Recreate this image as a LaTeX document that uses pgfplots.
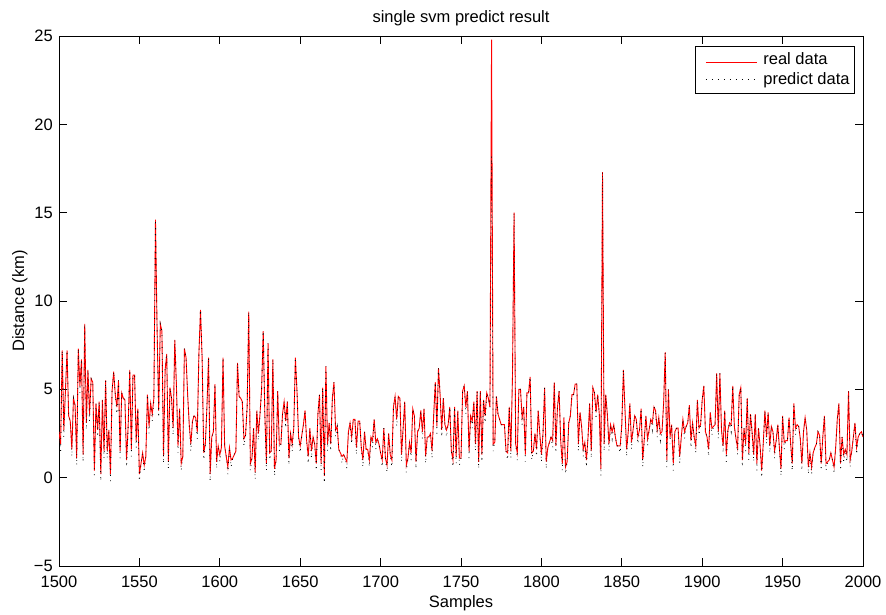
\documentclass[border=0pt]{standalone}
\usepackage{pgfplots}
\pgfplotsset{compat=1.18}
\usepackage{pgfplotstable}
\usepackage{fontspec}
\setmainfont{Liberation Sans}

\pgfplotstableread[row sep=\\]{
x r p\\
1500 2.6 2.5\\1501 1.9 1.5\\1502 7.2 7.2\\1503 2.7 2.3\\1504 4.9 4.9\\
1505 7.2 7.2\\1506 3.5 3.5\\1507 3.2 3.2\\1508 1.6 1.2\\1509 4.5 4.5\\
1510 4.1 4.1\\1511 1.1 0.7\\1512 7.3 7.3\\1513 5.2 4.8\\1514 6.7 6.7\\
1515 1.3 0.9\\1516 8.7 8.7\\1517 3.1 2.7\\1518 6.1 6.1\\1519 3.6 3.2\\
1520 5.6 5.6\\1521 5.4 5.4\\1522 0.4 0.0\\1523 4.2 4.2\\1524 2.7 2.3\\
1525 4.3 4.3\\1526 0.2 -0.2\\1527 4.4 4.4\\1528 1.5 1.1\\1529 5.5 5.5\\
1530 1.5 1.1\\1531 2.7 2.7\\1532 0.2 -0.2\\1533 4.9 4.9\\1534 6.0 6.0\\
1535 4.7 4.7\\1536 4.0 3.6\\1537 5.5 5.5\\1538 1.5 1.1\\1539 4.8 4.8\\
1540 4.5 4.5\\1541 4.4 4.4\\1542 1.0 0.6\\1543 2.9 2.9\\1544 6.1 6.1\\
1545 1.6 1.2\\1546 5.8 5.8\\1547 5.8 5.8\\1548 2.1 1.7\\1549 3.9 3.9\\
1550 0.2 -0.2\\1551 0.8 0.8\\1552 1.4 1.4\\1553 0.7 0.3\\1554 1.2 1.2\\
1555 4.7 4.7\\1556 2.9 2.5\\1557 4.2 4.2\\1558 3.6 3.2\\1559 4.5 4.3\\
1560 14.6 14.6\\1561 8.4 8.4\\1562 3.8 3.4\\1563 8.7 8.7\\1564 8.3 8.3\\
1565 1.2 0.8\\1566 6.1 6.1\\1567 7.0 7.0\\1568 0.9 0.5\\1569 5.1 5.1\\
1570 4.5 4.5\\1571 2.8 2.4\\1572 7.8 7.8\\1573 5.3 5.3\\1574 1.8 1.4\\
1575 3.9 3.9\\1576 0.8 0.4\\1577 1.2 1.2\\1578 7.3 7.3\\1579 6.8 6.8\\
1580 4.7 4.7\\1581 3.0 3.0\\1582 1.9 1.5\\1583 3.2 3.2\\1584 3.5 3.5\\
1585 3.4 3.4\\1586 2.6 2.2\\1587 7.0 7.0\\1588 9.5 9.5\\1589 6.8 6.8\\
1590 1.4 1.0\\1591 1.9 1.9\\1592 4.0 4.0\\1593 6.8 6.8\\1594 0.2 -0.2\\
1595 2.3 2.3\\1596 2.6 2.6\\1597 5.3 5.3\\1598 0.9 0.5\\1599 1.8 1.8\\
1600 1.3 0.9\\1601 1.7 1.7\\1602 6.8 6.8\\1603 1.8 1.8\\1604 1.2 1.2\\
1605 0.6 0.2\\1606 1.7 1.7\\1607 1.0 0.6\\1608 1.1 1.1\\1609 1.3 1.3\\
1610 1.5 1.5\\1611 6.5 6.5\\1612 4.6 4.6\\1613 4.5 4.5\\1614 4.3 4.3\\
1615 2.2 1.8\\1616 2.4 2.4\\1617 4.0 4.0\\1618 9.4 9.4\\1619 0.8 0.4\\
1620 1.1 1.1\\1621 2.8 2.8\\1622 0.3 -0.1\\1623 3.8 3.8\\1624 2.5 2.1\\
1625 3.6 3.6\\1626 5.0 5.0\\1627 8.3 8.3\\1628 3.6 3.6\\1629 0.8 0.4\\
1630 7.6 7.6\\1631 1.4 1.0\\1632 1.5 1.5\\1633 6.7 6.7\\1634 0.5 0.1\\
1635 1.0 1.0\\1636 4.9 4.9\\1637 1.9 1.5\\1638 1.9 1.9\\1639 3.6 3.6\\
1640 4.3 4.3\\1641 3.2 2.8\\1642 4.3 4.3\\1643 1.1 0.7\\1644 2.5 2.5\\
1645 1.9 1.5\\1646 2.8 2.8\\1647 6.8 6.8\\1648 4.9 4.9\\1649 2.3 2.3\\
1650 1.8 1.4\\1651 2.4 2.4\\1652 3.0 3.0\\1653 3.8 3.8\\1654 2.1 2.1\\
1655 1.2 0.8\\1656 2.8 2.8\\1657 1.5 1.1\\1658 2.3 2.3\\1659 1.9 1.9\\
1660 0.8 0.4\\1661 3.6 3.6\\1662 4.7 4.7\\1663 0.8 0.4\\1664 5.1 5.1\\
1665 0.1 -0.3\\1666 6.3 6.3\\1667 1.9 1.5\\1668 3.1 3.1\\1669 1.9 1.5\\
1670 4.5 4.5\\1671 5.4 5.4\\1672 2.7 2.3\\1673 2.9 2.9\\1674 1.6 1.6\\
1675 1.4 1.4\\1676 1.2 0.8\\1677 1.3 1.3\\1678 1.1 1.1\\1679 0.9 0.5\\
1680 2.6 2.6\\1681 3.1 3.1\\1682 2.3 1.9\\1683 3.3 3.3\\1684 3.3 3.3\\
1685 1.7 1.3\\1686 3.2 3.2\\1687 3.2 3.2\\1688 1.7 1.7\\1689 1.0 0.6\\
1690 2.6 2.6\\1691 1.6 1.6\\1692 1.6 1.6\\1693 1.0 0.6\\1694 2.3 2.3\\
1695 2.1 1.7\\1696 3.3 3.3\\1697 2.0 1.6\\1698 2.2 2.2\\1699 1.9 1.9\\
1700 1.4 1.4\\1701 1.0 0.6\\1702 2.8 2.8\\1703 1.1 1.1\\1704 0.7 0.3\\
1705 2.5 2.5\\1706 1.3 1.3\\1707 1.0 0.6\\1708 4.0 4.0\\1709 4.6 4.6\\
1710 3.3 2.9\\1711 4.6 4.6\\1712 4.5 4.5\\1713 1.3 0.9\\1714 2.8 2.8\\
1715 4.3 4.3\\1716 0.7 0.3\\1717 1.1 1.1\\1718 2.0 2.0\\1719 1.4 1.0\\
1720 3.9 3.9\\1721 3.5 3.5\\1722 0.9 0.5\\1723 2.6 2.6\\1724 2.8 2.8\\
1725 3.8 3.8\\1726 2.6 2.2\\1727 3.9 3.9\\1728 1.2 0.8\\1729 2.3 2.3\\
1730 2.3 2.3\\1731 2.5 2.5\\1732 1.5 1.1\\1733 3.5 3.5\\1734 5.4 5.4\\
1735 2.9 2.5\\1736 6.2 6.2\\1737 4.7 4.7\\1738 2.7 2.3\\1739 4.5 4.5\\
1740 3.0 3.0\\1741 2.7 2.3\\1742 3.0 3.0\\1743 4.0 4.0\\1744 1.5 1.5\\
1745 1.0 0.6\\1746 4.0 4.0\\1747 1.2 0.8\\1748 3.8 3.8\\1749 1.1 0.7\\
1750 1.1 1.1\\1751 4.9 4.9\\1752 5.2 5.2\\1753 4.0 3.6\\1754 4.9 4.9\\
1755 1.5 1.1\\1756 3.5 3.5\\1757 3.2 2.8\\1758 4.3 4.3\\1759 1.9 1.5\\
1760 4.9 4.9\\1761 0.9 0.5\\1762 4.9 4.9\\1763 1.3 0.9\\1764 4.4 4.4\\
1765 3.5 3.1\\1766 4.8 4.8\\1767 4.5 4.5\\1768 4.0 4.0\\1769 24.8 18.2\\
1770 1.9 1.5\\1771 2.0 2.0\\1772 4.6 4.6\\1773 3.6 3.6\\1774 3.3 3.3\\
1775 3.0 3.0\\1776 3.0 3.0\\1777 3.0 3.0\\1778 1.5 1.5\\1779 1.4 1.0\\
1780 4.0 4.0\\1781 1.5 1.1\\1782 5.7 5.7\\1783 15.0 15.0\\1784 1.9 1.9\\
1785 1.4 1.0\\1786 5.0 5.0\\1787 5.0 5.0\\1788 3.4 3.0\\1789 4.0 4.0\\
1790 1.3 0.9\\1791 4.8 4.8\\1792 4.8 4.8\\1793 5.7 5.7\\1794 1.4 1.0\\
1795 1.5 1.5\\1796 2.5 2.5\\1797 1.6 1.2\\1798 3.8 3.8\\1799 2.5 2.5\\
1800 1.3 0.9\\1801 2.5 2.5\\1802 5.1 5.1\\1803 0.9 0.5\\1804 1.7 1.7\\
1805 2.0 2.0\\1806 2.3 2.3\\1807 2.1 1.7\\1808 5.4 5.4\\1809 1.8 1.4\\
1810 4.0 4.0\\1811 4.9 4.9\\1812 2.1 2.1\\1813 0.8 0.4\\1814 3.4 3.4\\
1815 0.6 0.2\\1816 0.9 0.9\\1817 3.1 3.1\\1818 3.5 3.5\\1819 4.7 4.7\\
1820 4.7 4.7\\1821 5.3 5.3\\1822 5.3 5.3\\1823 1.9 1.5\\1824 3.7 3.7\\
1825 2.9 2.9\\1826 1.6 1.2\\1827 2.0 2.0\\1828 1.0 0.6\\1829 2.3 2.3\\
1830 4.2 4.2\\1831 1.5 1.1\\1832 5.1 5.1\\1833 4.8 4.8\\1834 3.7 3.3\\
1835 4.7 4.7\\1836 3.6 3.6\\1837 0.5 0.1\\1838 17.3 17.3\\1839 1.9 1.5\\
1840 4.7 4.7\\1841 3.6 3.6\\1842 1.9 1.5\\1843 3.0 3.0\\1844 2.6 2.2\\
1845 3.0 3.0\\1846 2.3 2.3\\1847 1.8 1.8\\1848 1.8 1.8\\1849 1.8 1.4\\
1850 3.0 3.0\\1851 6.1 6.1\\1852 3.8 3.8\\1853 1.6 1.2\\1854 2.6 2.6\\
1855 4.2 4.2\\1856 2.0 1.6\\1857 2.7 2.7\\1858 3.5 3.5\\1859 3.3 3.3\\
1860 2.3 1.9\\1861 2.7 2.7\\1862 3.9 3.9\\1863 1.0 0.6\\1864 2.2 2.2\\
1865 3.5 3.5\\1866 2.2 1.8\\1867 2.7 2.7\\1868 3.3 3.3\\1869 3.1 2.7\\
1870 4.0 4.0\\1871 3.8 3.8\\1872 2.7 2.3\\1873 3.4 3.4\\1874 2.5 2.1\\
1875 2.6 2.6\\1876 4.2 4.2\\1877 7.1 7.1\\1878 1.0 0.6\\1879 5.0 5.0\\
1880 2.3 1.9\\1881 3.0 3.0\\1882 0.8 0.4\\1883 2.6 2.6\\1884 2.8 2.8\\
1885 2.8 2.8\\1886 1.2 0.8\\1887 2.3 2.3\\1888 3.3 3.3\\1889 2.6 2.2\\
1890 2.9 2.9\\1891 3.1 3.1\\1892 4.1 4.1\\1893 2.1 1.7\\1894 3.1 3.1\\
1895 2.3 2.3\\1896 1.8 1.4\\1897 4.4 4.4\\1898 2.8 2.4\\1899 3.0 3.0\\
1900 4.4 4.4\\1901 5.2 5.2\\1902 2.6 2.6\\1903 2.3 2.3\\1904 1.6 1.2\\
1905 3.7 3.7\\1906 2.8 2.4\\1907 2.9 2.9\\1908 3.0 3.0\\1909 5.9 5.9\\
1910 2.6 2.2\\1911 5.9 5.9\\1912 2.7 2.7\\1913 1.8 1.4\\1914 3.8 3.8\\
1915 1.3 0.9\\1916 2.7 2.7\\1917 3.1 3.1\\1918 3.0 2.6\\1919 5.2 5.2\\
1920 2.9 2.9\\1921 2.2 2.2\\1922 1.7 1.3\\1923 4.7 4.7\\1924 5.1 5.1\\
1925 1.0 0.6\\1926 2.8 2.8\\1927 1.9 1.5\\1928 4.5 4.5\\1929 1.4 1.0\\
1930 3.6 3.6\\1931 2.6 2.6\\1932 1.3 0.9\\1933 3.6 3.6\\1934 0.8 0.4\\
1935 2.8 2.8\\1936 1.8 1.8\\1937 0.4 0.0\\1938 2.0 2.0\\1939 3.8 3.8\\
1940 2.3 1.9\\1941 3.7 3.7\\1942 1.8 1.4\\1943 2.9 2.9\\1944 2.6 2.6\\
1945 1.5 1.1\\1946 2.1 2.1\\1947 3.0 3.0\\1948 1.7 1.7\\1949 0.5 0.1\\
1950 3.5 3.5\\1951 2.0 1.6\\1952 2.1 2.1\\1953 2.1 2.1\\1954 3.4 3.4\\
1955 1.9 1.9\\1956 0.8 0.4\\1957 4.2 4.2\\1958 2.8 2.4\\1959 3.0 3.0\\
1960 2.9 2.9\\1961 2.2 2.2\\1962 0.8 0.4\\1963 2.6 2.6\\1964 3.4 3.4\\
1965 2.7 2.7\\1966 0.6 0.2\\1967 1.4 1.4\\1968 0.6 0.2\\1969 1.4 1.4\\
1970 1.7 1.7\\1971 1.9 1.9\\1972 2.6 2.6\\1973 2.4 2.4\\1974 0.8 0.4\\
1975 2.3 2.3\\1976 3.5 3.5\\1977 0.8 0.4\\1978 0.9 0.9\\1979 1.0 1.0\\
1980 1.4 1.4\\1981 1.0 1.0\\1982 0.6 0.2\\1983 1.7 1.7\\1984 3.3 3.3\\
1985 4.2 4.2\\1986 0.8 0.4\\1987 2.3 2.3\\1988 1.3 0.9\\1989 1.6 1.6\\
1990 1.3 0.9\\1991 4.9 4.9\\1992 1.0 0.6\\1993 1.5 1.5\\1994 2.3 2.3\\
1995 3.1 3.1\\1996 1.7 1.3\\1997 2.3 2.3\\1998 2.5 2.5\\1999 2.6 2.6\\
2000 2.3 2.3\\
}\svmdata

\begin{document}
\begin{tikzpicture}[font=\fontsize{16.5}{19}\selectfont]
\begin{axis}[
  scale only axis,
  width=804pt, height=530pt,
  xmin=1500, xmax=2000, ymin=-5, ymax=25,
  xtick={1500,1550,1600,1650,1700,1750,1800,1850,1900,1950,2000},
  xticklabels={1500,1550,1600,1650,1700,1750,1800,1850,1900,1950,2000},
  ytick={-5,0,5,10,15,20,25},
  yticklabels={−5,0,5,10,15,20,25},
  tick align=inside,
  major tick length=8pt,
  axis line style={line width=0.9pt, black},
  every tick/.style={line width=0.9pt, black},
  xticklabel style={anchor=base, inner sep=0pt, yshift=-21pt},
  yticklabel style={anchor=east, inner sep=0pt, xshift=-6pt},
  title={single svm predict result},
  title style={at={(0.5,1)}, anchor=base, inner sep=0pt, yshift=7pt},
  xlabel={Samples},
  xlabel style={at={(0.5,0)}, anchor=base, inner sep=0pt, yshift=-41pt},
  ylabel={Distance (km)},
  ylabel style={at={(axis description cs:-0.0435,0.5)}, anchor=base, inner sep=0pt},
  legend style={at={(1,1)}, anchor=north east, xshift=-8pt, yshift=-9.7pt,
    fill=white, line width=0.8pt,
    inner xsep=5pt, inner ysep=6.3pt, row sep=0pt,
    font=\fontsize{16.5}{19}\selectfont,
    nodes={inner sep=0pt, text height=12.5pt, text depth=3pt}},
  legend cell align=left,
  /tikz/every odd column/.append style={column sep=6pt},
]
\addplot[red, line width=0.9pt,
  legend image code/.code={\path (0pt,0pt); \draw[draw=red, line width=1pt] (5pt,0pt) -- (56pt,0pt);}]
  table[x=x, y=r] {\svmdata};
\addlegendentry[text depth=7.3pt]{real data}
\addplot[black, line width=0.8pt, dash pattern=on 0.8pt off 5.2pt,
  legend image code/.code={\path (0pt,0pt); \draw[draw=black, line width=0.8pt, dash pattern=on 0.8pt off 5.2pt] (5pt,0pt) -- (56pt,0pt);}]
  table[x=x, y=p] {\svmdata};
\addlegendentry[text depth=2.7pt]{predict data}
\end{axis}
\path (current axis.south west) ++(-59pt,-48pt) coordinate (BL);
\path (current axis.north east) ++(23pt,36pt) coordinate (TR);
\pgfresetboundingbox
\path[use as bounding box] (BL) rectangle (TR);
\end{tikzpicture}
\end{document}
